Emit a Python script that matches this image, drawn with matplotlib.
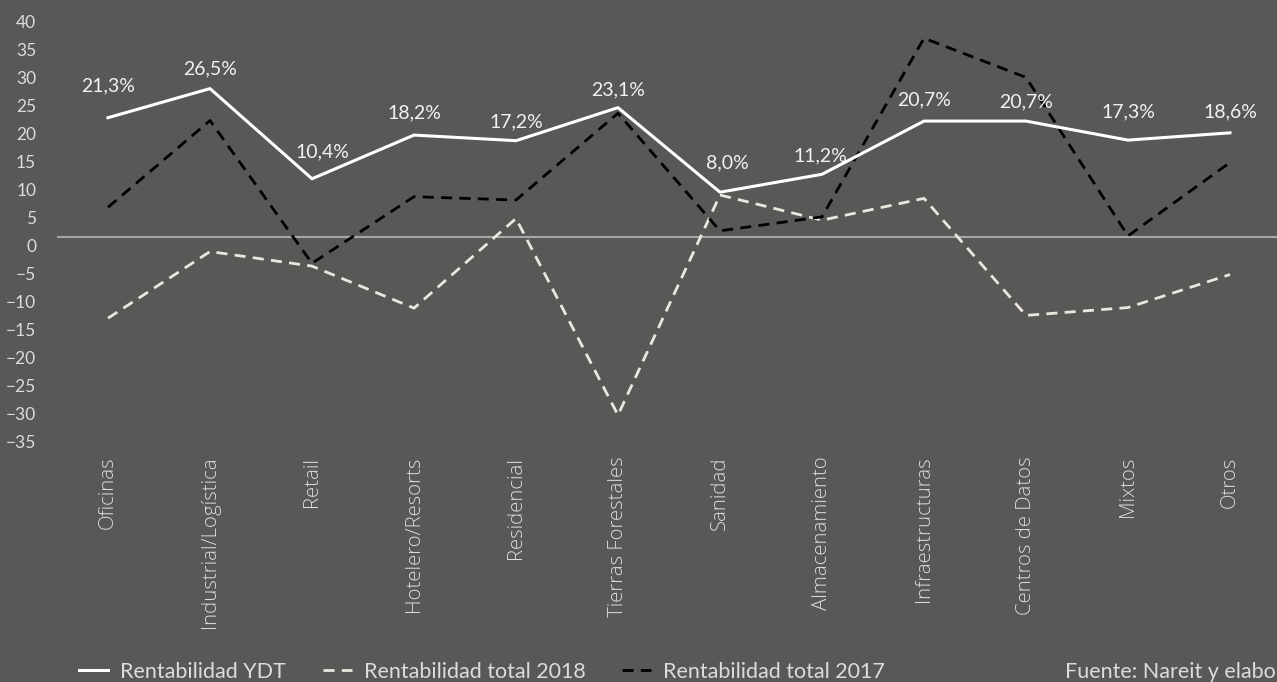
import numpy as np
import matplotlib.pyplot as plt
import matplotlib.transforms as mtransforms

categorias = ['Oficinas', 'Industrial/Logística', 'Retail', 'Hotelero/Resorts',
              'Residencial', 'Tierras Forestales', 'Sanidad', 'Almacenamiento',
              'Infraestructuras', 'Centros de Datos', 'Mixtos', 'Otros']
ytd = [21.3, 26.5, 10.4, 18.2, 17.2, 23.1, 8.0, 11.2, 20.7, 20.7, 17.3, 18.6]
total_2018 = [-14.5, -2.6, -5.2, -12.7, 3.3, -31.8, 7.5, 3.0, 6.9, -14.0, -12.6, -6.7]
total_2017 = [5.3, 20.8, -4.7, 7.2, 6.6, 22.1, 1.1, 3.6, 35.5, 28.5, 0.2, 13.3]
etiquetas = ['21,3%', '26,5%', '10,4%', '18,2%', '17,2%', '23,1%',
             '8,0%', '11,2%', '20,7%', '20,7%', '17,3%', '18,6%']

# label offsets in pixels (dx, dy) above each point
label_dx = [0, 0, 10, 0, 0, 0, 7, -2, 0, 0, 0, 0]
label_dy = [32, 20, 27, 22, 19, 18, 29, 18, 21, 19, 28, 21]

bg = '#585857'
txt = '#dcdcdc'
font = ['Lato', 'DejaVu Sans']

fig = plt.figure(figsize=(12.77, 6.82), dpi=100, facecolor=bg)
ax = fig.add_axes([57 / 1277, 1 - 433 / 682, 1224 / 1277, 420 / 682])
ax.set_facecolor(bg)

x = np.arange(len(categorias))
ax.plot(x, ytd, color='white', lw=2.2, label='Rentabilidad YDT', zorder=4)
ax.plot(x, total_2018, color='#ebe7df', lw=2.0, dashes=(4, 2.6),
        label='Rentabilidad total 2018', zorder=3)
ax.plot(x, total_2017, color='black', lw=2.0, dashes=(4, 2.6),
        label='Rentabilidad total 2017', zorder=3)
ax.axhline(0, color='#a6a6a6', lw=1.5, zorder=1)

for i, lab in enumerate(etiquetas):
    ax.annotate(lab, (x[i], ytd[i]), xytext=(label_dx[i] * 0.72, label_dy[i] * 0.72),
                textcoords='offset points', ha='center', va='center',
                color='#f2f2f2', fontsize=14, family=font)

ax.set_xlim(-0.5, len(categorias) - 0.5)
ax.set_ylim(-35, 40)
ax.set_yticks(np.arange(-35, 41, 5))
ax.set_xticks(x)
ax.set_xticklabels(categorias, rotation=90, fontsize=14.7, color=txt,
                   family=['Open Sans', 'DejaVu Sans'], fontweight='light')
for s in ax.spines.values():
    s.set_visible(False)
ax.tick_params(axis='both', length=0)
ax.tick_params(axis='x', pad=17)
ax.tick_params(axis='y', pad=15, labelsize=12.5, labelcolor=txt)
for t in ax.get_yticklabels():
    t.set_family(font)
    t.set_transform(t.get_transform() + mtransforms.ScaledTranslation(0, -0.08, fig.dpi_scale_trans))

leg = fig.legend(loc='center left', bbox_to_anchor=(60 / 1277, 1 - 672 / 682), ncol=3,
                 frameon=False, handlelength=1.35, columnspacing=1.7, handletextpad=0.55,
                 prop={'family': font, 'size': 15.5})
for t in leg.get_texts():
    t.set_color(txt)

# the source note runs off the right edge, as in the original
fig.text(1065 / 1277, 1 - 672 / 682, 'Fuente: Nareit y elaboración propia', color=txt,
         fontsize=15.5, family=font, va='center', ha='left')

fig.savefig('out.png', dpi=100, facecolor=bg)
